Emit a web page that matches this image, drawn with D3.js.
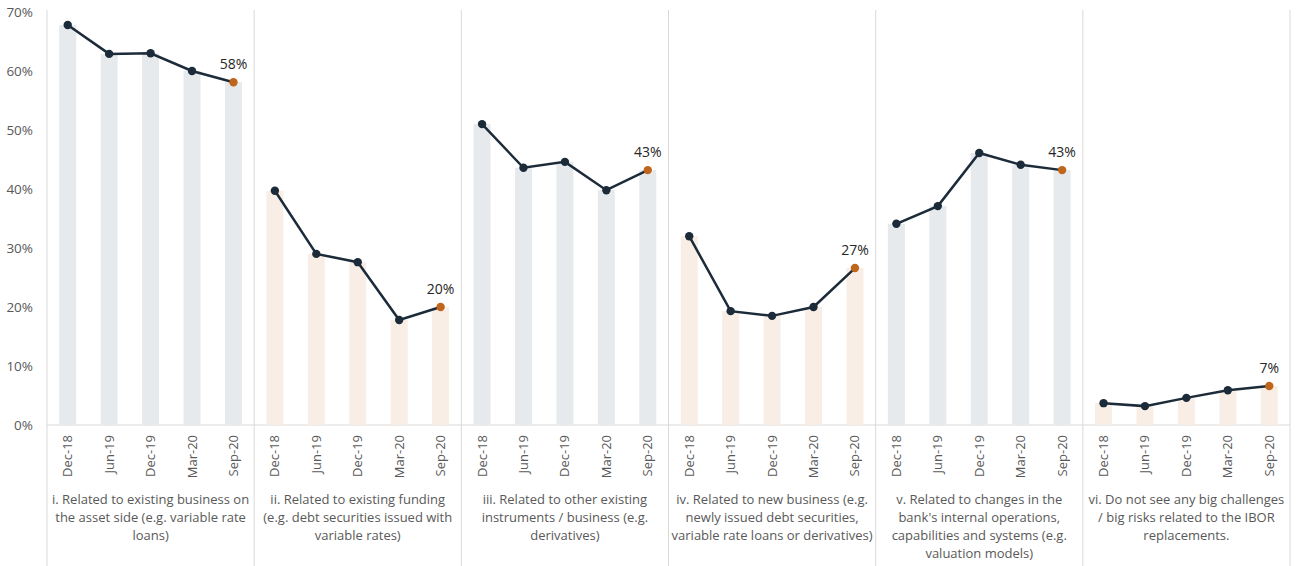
<!DOCTYPE html>
<html>
<head>
<meta charset="utf-8">
<script src="https://cdn.jsdelivr.net/npm/d3@7"></script>
<style>
body { margin: 0; background: #fff; }
text { font-family: "Open Sans", sans-serif; }
</style>
</head>
<body>
<script>
var svgWidth = 1296;
var svgHeight = 566;

var periods = ["Dec-18", "Jun-19", "Dec-19", "Mar-20", "Sep-20"];
var groups = ["i", "ii", "iii", "iv", "v", "vi"];
var groupLabels = [
  ["i. Related to existing business on", "the asset side (e.g. variable rate", "loans)"],
  ["ii. Related to existing funding", "(e.g. debt securities issued with", "variable rates)"],
  ["iii. Related to other existing", "instruments / business (e.g.", "derivatives)"],
  ["iv. Related to new business (e.g.", "newly issued debt securities,", "variable rate loans or derivatives)"],
  ["v. Related to changes in the", "bank's internal operations,", "capabilities and systems (e.g.", "valuation models)"],
  ["vi. Do not see any big challenges", "/ big risks related to the IBOR", "replacements."]
];
var values = [
  [0.678, 0.629, 0.630, 0.600, 0.581],
  [0.397, 0.290, 0.276, 0.178, 0.200],
  [0.510, 0.436, 0.446, 0.398, 0.432],
  [0.320, 0.193, 0.185, 0.200, 0.266],
  [0.341, 0.371, 0.461, 0.441, 0.432],
  [0.037, 0.032, 0.046, 0.059, 0.066]
];
var yTicks = [0, 0.1, 0.2, 0.3, 0.4, 0.5, 0.6, 0.7];
var barColors = ["#e7eaed", "#f8eee5"];

var svg = d3.select("body").append("svg").attr("width", svgWidth).attr("height", svgHeight);

var x0 = d3.scaleBand().domain(groups).range([47, 1290]);
var x1 = d3.scalePoint().domain(periods).range([0, x0.bandwidth()]).padding(0.5);
var y = d3.scaleLinear().domain([0, 0.7]).range([425, 12]);

// y axis labels
svg.append("g").selectAll("text").data(yTicks).enter().append("text")
  .attr("x", 33).attr("y", d => y(d)).attr("dy", "0.35em")
  .attr("text-anchor", "end").attr("fill", "#595959").attr("font-size", "13.5px")
  .text(d => d3.format(".0%")(d));

// panel separators
svg.append("g").selectAll("line").data(groups.concat(["end"])).enter().append("line")
  .attr("x1", (d, i) => i < groups.length ? x0(d) : x0.range()[1])
  .attr("x2", (d, i) => i < groups.length ? x0(d) : x0.range()[1])
  .attr("y1", 10).attr("y2", svgHeight)
  .attr("stroke", "#d9d9d9").attr("stroke-width", 1);

// baseline
svg.append("line").attr("x1", x0.range()[0]).attr("x2", x0.range()[1])
  .attr("y1", y(0)).attr("y2", y(0)).attr("stroke", "#d9d9d9").attr("stroke-width", 1);

var panel = svg.selectAll(".panel").data(groups).enter().append("g")
  .attr("class", "panel").attr("transform", d => `translate(${x0(d)},0)`);

var barW = 17;
panel.selectAll("rect").data((d, gi) => values[gi].map((v, i) => ({v: v, p: periods[i], g: gi})))
  .enter().append("rect")
  .attr("x", d => x1(d.p) - barW / 2).attr("width", barW)
  .attr("y", d => y(d.v)).attr("height", d => y(0) - y(d.v))
  .attr("fill", d => barColors[d.g % 2]);

var line = d3.line().x((d, i) => x1(periods[i])).y(d => y(d));
panel.append("path").attr("d", (d, gi) => line(values[gi]))
  .attr("fill", "none").attr("stroke", "#1c2b39").attr("stroke-width", 2.5);

panel.selectAll("circle").data((d, gi) => values[gi].map((v, i) => ({v: v, i: i})))
  .enter().append("circle")
  .attr("cx", d => x1(periods[d.i])).attr("cy", d => y(d.v)).attr("r", 4.2)
  .attr("fill", d => d.i === periods.length - 1 ? "#c0661c" : "#1c2b39");

panel.append("text")
  .attr("x", x1(periods[periods.length - 1]))
  .attr("y", (d, gi) => y(values[gi][periods.length - 1]) - 13)
  .attr("text-anchor", "middle").attr("fill", "#262626").attr("font-size", "14px")
  .text((d, gi) => d3.format(".0%")(values[gi][periods.length - 1]));

// x tick labels
panel.selectAll(".tick").data(periods).enter().append("text").attr("class", "tick")
  .attr("transform", d => `translate(${x1(d) + 4.5},435) rotate(-90)`)
  .attr("text-anchor", "end").attr("fill", "#595959").attr("font-size", "13px")
  .text(d => d);

// group labels
panel.append("text")
  .attr("text-anchor", "middle").attr("fill", "#595959").attr("font-size", "13px")
  .selectAll("tspan").data((d, gi) => groupLabels[gi]).enter().append("tspan")
  .attr("x", x0.bandwidth() / 2).attr("y", (d, i) => 504 + i * 18)
  .text(d => d);
</script>
</body>
</html>
